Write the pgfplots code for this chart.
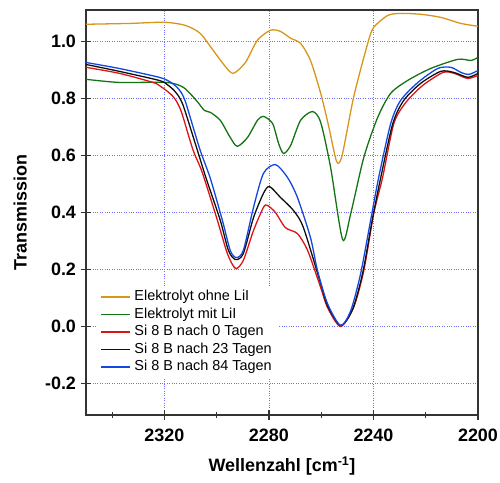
\documentclass[border=0pt]{standalone}
\usepackage{fontspec}
\setmainfont{Liberation Sans}
\usepackage{pgfplots}
\pgfplotsset{compat=1.18}
\definecolor{corange}{RGB}{215,150,25}
\definecolor{cgreen}{RGB}{20,115,20}
\definecolor{cred}{RGB}{220,20,20}
\definecolor{cblack}{RGB}{15,15,15}
\definecolor{cblue}{RGB}{20,70,225}
\definecolor{cgrid}{RGB}{110,110,255}
\begin{document}
\begin{tikzpicture}
\useasboundingbox (-86bp,-68bp) rectangle (414bp,415bp);
\begin{axis}[
  at={(0,0)}, anchor=south west,
  scale only axis, width=392bp, height=405bp,
  x dir=reverse,
  xmin=2200, xmax=2350, ymin=-0.31, ymax=1.11,
  xtick={2200,2240,2280,2320},
  minor xtick={2220,2260,2300,2340},
  ytick={-0.2,0,0.2,0.4,0.6,0.8,1.0},
  xtick pos=bottom, ytick pos=left,
  tick align=center,
  major tick length=10bp, minor tick length=6bp,
  every tick/.style={line width=1.2pt, black!80},
  axis line style={line width=1.2pt, black!80},
  grid=major,
  major grid style={cgrid, dotted, line width=0.6pt},
  xticklabel={\textbf{\pgfmathprintnumber[assume math mode=true,1000 sep={}]{\tick}}},
  yticklabel={\textbf{\pgfmathprintnumber[assume math mode=true,fixed,fixed zerofill,precision=1]{\tick}}},
  xticklabel style={font=\bfseries\fontsize{18}{18}\selectfont, yshift=-5bp},
  yticklabel style={font=\bfseries\fontsize{18}{18}\selectfont, xshift=-1.5bp},
  every axis x label/.style={at={(axis description cs:0.5,-0.126)}, anchor=center},
  every axis y label/.style={at={(axis description cs:-0.168,0.5)}, rotate=90, anchor=center},
  xlabel={\bfseries\fontsize{18}{18}\selectfont Wellenzahl [cm\textsuperscript{-1}]},
  ylabel={\bfseries\fontsize{18}{18}\selectfont Transmission},
  legend cell align=left,
  legend style={at={(0.028,0.3185)}, anchor=north west, draw=none, fill=white,
    font=\fontsize{14.5}{16}\selectfont, row sep=0pt,
    nodes={inner ysep=1.5bp, inner xsep=3.5bp, text height=11bp, text depth=3.5bp}},
  legend image code/.code={\draw[#1, line width=1.8pt] (0bp,0bp) -- (29bp,0bp);},
  every axis plot/.append style={line width=1.3pt, smooth, tension=0.45},
]
\addplot[corange] coordinates {
(2350,1.060) (2333,1.063) (2320,1.067) (2312,1.056) (2306.3,1.028) (2301.3,0.968)
(2296.7,0.912) (2293.6,0.888) (2289,0.926) (2284.4,1.004) (2279.4,1.039) (2275.6,1.035)
(2271.7,1.011) (2267.9,0.993) (2264.1,0.933) (2260.2,0.818) (2257.2,0.705) (2254.1,0.579)
(2252,0.60) (2247.6,0.804) (2242.2,0.993) (2239.9,1.049) (2234.5,1.091) (2229.6,1.098)
(2221.9,1.095) (2214.2,1.084) (2206.6,1.063) (2200,1.053)
};
\addlegendentry{Elektrolyt ohne LiI}
\addplot[cgreen] coordinates {
(2350,0.867) (2337.3,0.856) (2319.3,0.856) (2312.8,0.839) (2307.8,0.793) (2304.7,0.758)
(2302.4,0.751) (2298.6,0.723) (2294.8,0.663) (2292.1,0.632) (2288.2,0.663) (2284.4,0.723)
(2282.1,0.737) (2278.6,0.712) (2276.3,0.642) (2274.4,0.607) (2271.7,0.635) (2267.9,0.723)
(2263.3,0.754) (2260.2,0.716) (2256.4,0.558) (2251.8,0.305) (2248.7,0.396) (2243.7,0.593)
(2238.4,0.733) (2233.4,0.818) (2226.9,0.863) (2218.1,0.905) (2207.7,0.937) (2202.7,0.933)
(2200,0.944)
};
\addlegendentry{Elektrolyt mit LiI}
\addplot[cred] coordinates {
(2350,0.909) (2337.3,0.888) (2324.3,0.856) (2321.6,0.843) (2319.3,0.828) (2317,0.810)
(2315.5,0.792) (2314,0.765) (2312.8,0.733)
(2309,0.618) (2305.5,0.540) (2299.7,0.372) (2295.9,0.256) (2292.8,0.204) (2289.8,0.232)
(2285.9,0.337) (2282.1,0.418) (2280.6,0.425) (2277.5,0.400) (2273.7,0.347) (2269.1,0.326)
(2265.2,0.267) (2260.2,0.137) (2257.6,0.067) (2252.6,0.0) (2247.6,0.067) (2243.7,0.196)
(2239.9,0.396) (2236.5,0.523) (2232.2,0.712) (2227.6,0.786) (2221.1,0.846) (2213.4,0.891)
(2209.2,0.888) (2203.9,0.870) (2200,0.881)
};
\addlegendentry{Si 8 B nach 0 Tagen}
\addplot[cblack] coordinates {
(2350,0.919) (2337.3,0.895) (2322,0.863) (2319,0.849) (2316.5,0.830) (2314.5,0.807)
(2313,0.780) (2311.3,0.733) (2307,0.607)
(2304,0.519) (2298.6,0.372) (2295.5,0.267) (2292.8,0.235) (2289.8,0.256) (2285.9,0.382)
(2282.1,0.467) (2279.8,0.491) (2275.6,0.453) (2270.6,0.407) (2266.8,0.347) (2260.2,0.151)
(2257.6,0.074) (2252.6,0.004) (2248,0.060) (2244.1,0.189) (2240.3,0.382) (2237.2,0.523)
(2232.6,0.712) (2228.4,0.793) (2221.9,0.853) (2214.2,0.895) (2209.2,0.891) (2203.9,0.874)
(2200,0.888)
};
\addlegendentry{Si 8 B nach 23 Tagen}
\addplot[cblue] coordinates {
(2350,0.926) (2337.3,0.905) (2322,0.874) (2318,0.859) (2315.5,0.842) (2313.5,0.820)
(2312,0.790) (2310.1,0.733) (2306.3,0.618)
(2302.4,0.519) (2297.8,0.372) (2294.8,0.267) (2292.5,0.242) (2289.8,0.267) (2285.9,0.418)
(2282.1,0.537) (2277.5,0.568) (2272.9,0.523) (2269.1,0.453) (2264.1,0.312) (2261.4,0.196)
(2257.6,0.081) (2252.6,0.004) (2248.7,0.056) (2244.9,0.186) (2241.1,0.372) (2238,0.523)
(2233.4,0.712) (2229.6,0.793) (2223,0.856) (2215.4,0.905) (2210.4,0.909) (2206.5,0.891)
(2203.5,0.884) (2200,0.898)
};
\addlegendentry{Si 8 B nach 84 Tagen}
\end{axis}
\end{tikzpicture}
\end{document}
